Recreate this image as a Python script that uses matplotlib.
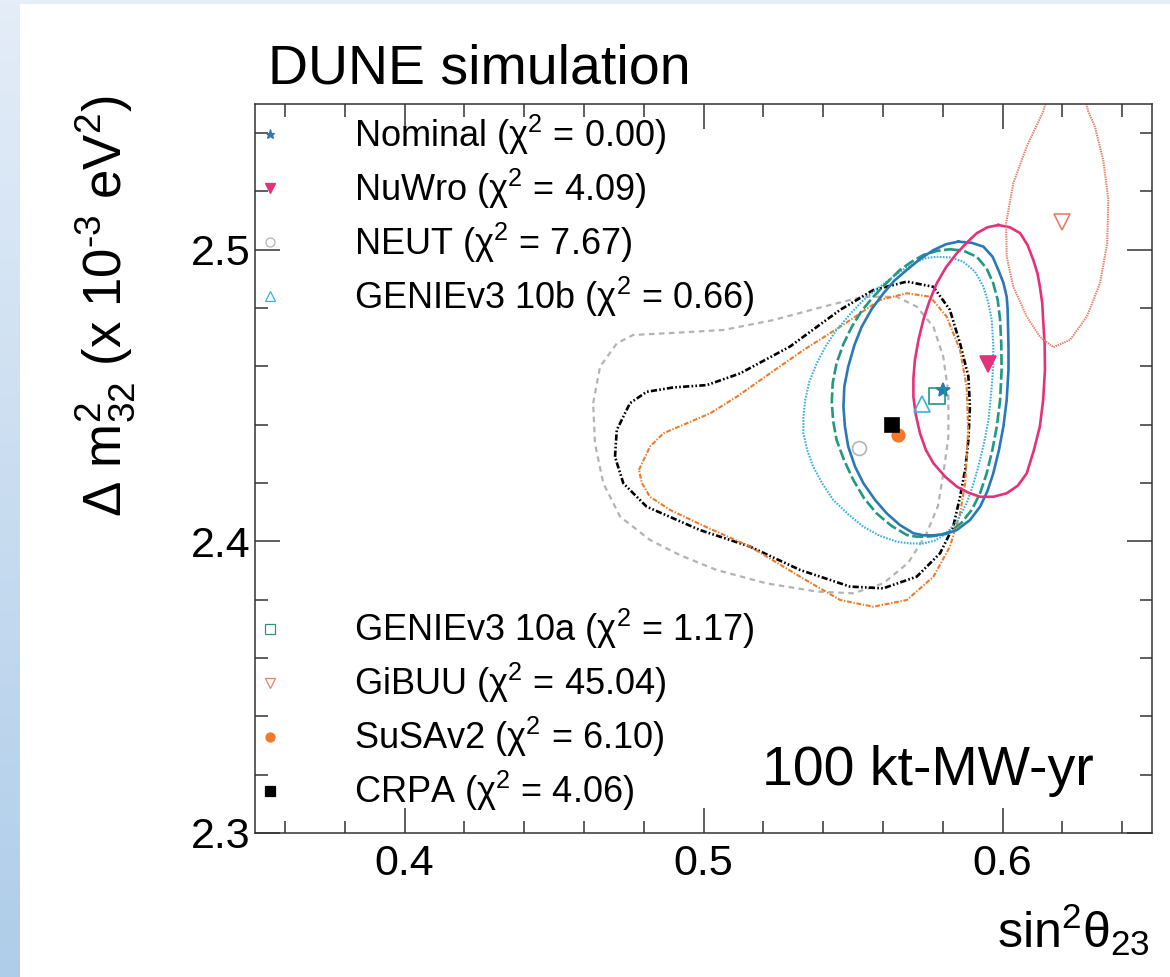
import numpy as np
import matplotlib
matplotlib.use("Agg")
import matplotlib.pyplot as plt
from matplotlib.lines import Line2D
from matplotlib.patches import Rectangle
from matplotlib.ticker import MultipleLocator, FixedLocator

plt.rcParams['font.family'] = ['Liberation Sans', 'DejaVu Sans']
plt.rcParams['mathtext.fontset'] = 'custom'
plt.rcParams['mathtext.rm'] = 'Liberation Sans'
plt.rcParams['mathtext.it'] = 'Liberation Sans:italic'
plt.rcParams['mathtext.bf'] = 'Liberation Sans:bold'
plt.rcParams['lines.scale_dashes'] = False

# best fit points
models = ["Nominal", "NuWro", "NEUT", "GENIEv3 10b", "GENIEv3 10a", "GiBUU", "SuSAv2", "CRPA"]
chi2 = ["0.00", "4.09", "7.67", "0.66", "1.17", "45.04", "6.10", "4.06"]
best_s23 = [0.580, 0.595, 0.552, 0.573, 0.578, 0.620, 0.565, 0.563]
best_dm32 = [2.452, 2.461, 2.432, 2.447, 2.450, 2.5095, 2.4365, 2.440]

# contours (sin^2 theta23, dm32 in 1e-3 eV^2)
nominal_s23 = [0.5852, 0.5897, 0.5936, 0.5967, 0.5986, 0.6003, 0.6014, 0.6017, 0.6018, 0.6020, 0.6020,
               0.6014, 0.6003, 0.5988, 0.5969, 0.5949, 0.5925, 0.5891, 0.5847, 0.5808, 0.5769, 0.5735,
               0.5702, 0.5657, 0.5613, 0.5574, 0.5535, 0.5507, 0.5484, 0.5473, 0.5468, 0.5471, 0.5484,
               0.5505, 0.5529, 0.5562, 0.5602, 0.5638, 0.5680, 0.5724, 0.5769, 0.5811]
nominal_dm32 = [2.5028, 2.5024, 2.5011, 2.4976, 2.4931, 2.4887, 2.4839, 2.4799, 2.4759, 2.4668, 2.4588,
                2.4485, 2.4394, 2.4313, 2.4233, 2.4171, 2.4119, 2.4073, 2.4039, 2.4025, 2.4021, 2.4021,
                2.4028, 2.4056, 2.4096, 2.4142, 2.4199, 2.4256, 2.4325, 2.4394, 2.4462, 2.4531, 2.4599,
                2.4674, 2.4736, 2.4796, 2.4851, 2.4894, 2.4931, 2.4968, 2.4999, 2.5019]

g10a_s23 = [0.5824, 0.5869, 0.5914, 0.5947, 0.5969, 0.5984, 0.5992, 0.5996, 0.5997, 0.5992, 0.5981,
            0.5966, 0.5947, 0.5925, 0.5897, 0.5863, 0.5824, 0.5785, 0.5746, 0.5713, 0.5680, 0.5629,
            0.5579, 0.5537, 0.5501, 0.5470, 0.5445, 0.5434, 0.5429, 0.5432, 0.5445, 0.5468, 0.5496,
            0.5529, 0.5568, 0.5613, 0.5657, 0.5696, 0.5735, 0.5780]
g10a_dm32 = [2.5002, 2.4997, 2.4976, 2.4936, 2.4885, 2.4828, 2.4759, 2.4674, 2.4588, 2.4485, 2.4394,
             2.4313, 2.4233, 2.4165, 2.4108, 2.4064, 2.4033, 2.4020, 2.4016, 2.4016, 2.4022, 2.4053,
             2.4096, 2.4148, 2.4211, 2.4279, 2.4348, 2.4411, 2.4474, 2.4542, 2.4611, 2.4677, 2.4736,
             2.4791, 2.4839, 2.4887, 2.4931, 2.4959, 2.4982, 2.4996]

g10b_s23 = [0.5780, 0.5824, 0.5869, 0.5908, 0.5936, 0.5953, 0.5964, 0.5969, 0.5969, 0.5962, 0.5953,
            0.5938, 0.5919, 0.5900, 0.5880, 0.5850, 0.5813, 0.5774, 0.5735, 0.5691, 0.5646, 0.5590,
            0.5535, 0.5484, 0.5434, 0.5397, 0.5367, 0.5347, 0.5334, 0.5334, 0.5340, 0.5354, 0.5379,
            0.5409, 0.5445, 0.5490, 0.5535, 0.5585, 0.5635, 0.5674, 0.5713, 0.5746]
g10b_dm32 = [2.4976, 2.4974, 2.4959, 2.4925, 2.4874, 2.4816, 2.4759, 2.4679, 2.4599, 2.4508, 2.4416,
             2.4336, 2.4256, 2.4188, 2.4131, 2.4073, 2.4028, 2.4003, 2.3993, 2.3993, 2.3999, 2.4019,
             2.4050, 2.4093, 2.4142, 2.4199, 2.4256, 2.4313, 2.4371, 2.4428, 2.4485, 2.4548, 2.4611,
             2.4670, 2.4725, 2.4779, 2.4828, 2.4870, 2.4908, 2.4936, 2.4959, 2.4972]

nuwro_s23 = [0.5986, 0.6025, 0.6059, 0.6084, 0.6103, 0.6117, 0.6125, 0.6133, 0.6136, 0.6141, 0.6142,
             0.6136, 0.6125, 0.6105, 0.6081, 0.6051, 0.6014, 0.5969, 0.5925, 0.5886, 0.5847, 0.5808,
             0.5769, 0.5744, 0.5724, 0.5710, 0.5702, 0.5702, 0.5707, 0.5719, 0.5735, 0.5755, 0.5780,
             0.5811, 0.5847, 0.5880, 0.5914, 0.5949]
nuwro_dm32 = [2.5085, 2.5077, 2.5057, 2.5016, 2.4965, 2.4919, 2.4874, 2.4816, 2.4759, 2.4674, 2.4588,
              2.4485, 2.4394, 2.4313, 2.4233, 2.4191, 2.4165, 2.4153, 2.4153, 2.4167, 2.4188, 2.4222,
              2.4268, 2.4313, 2.4371, 2.4434, 2.4496, 2.4559, 2.4622, 2.4691, 2.4759, 2.4822, 2.4885,
              2.4940, 2.4988, 2.5024, 2.5057, 2.5077]

gibuu_s23 = [0.6152, 0.6136, 0.6081, 0.6036, 0.6012, 0.6014, 0.6036, 0.6081, 0.6125, 0.6170, 0.6226,
             0.6282, 0.6326, 0.6350, 0.6354, 0.6337, 0.6309, 0.6287, 0.6273]
gibuu_dm32 = [2.5531, 2.5474, 2.5354, 2.5228, 2.5091, 2.4976, 2.4873, 2.4771, 2.4702, 2.4666, 2.4691,
              2.4771, 2.4885, 2.5022, 2.5171, 2.5308, 2.5422, 2.5474, 2.5531]

neut_s23 = [0.4631, 0.4654, 0.4710, 0.4765, 0.4899, 0.5066, 0.5233, 0.5401, 0.5534, 0.5646, 0.5713,
            0.5769, 0.5802, 0.5819, 0.5819, 0.5804, 0.5784, 0.5744, 0.5684, 0.5601, 0.5501, 0.5379,
            0.5211, 0.5044, 0.4921, 0.4821, 0.4721, 0.4665, 0.4637]
neut_dm32 = [2.4474, 2.4599, 2.4679, 2.4708, 2.4715, 2.4725, 2.4759, 2.4805, 2.4839, 2.4839, 2.4805,
             2.4736, 2.4633, 2.4508, 2.4359, 2.4245, 2.4121, 2.4022, 2.3926, 2.3856, 2.3822, 2.3828,
             2.3856, 2.3902, 2.3953, 2.4005, 2.4085, 2.4199, 2.4336]

susa_s23 = [0.4784, 0.4821, 0.4866, 0.4944, 0.5022, 0.5111, 0.5222, 0.5334, 0.5457, 0.5590, 0.5680,
            0.5758, 0.5813, 0.5858, 0.5880, 0.5885, 0.5875, 0.5858, 0.5824, 0.5769, 0.5680, 0.5568,
            0.5457, 0.5323, 0.5156, 0.4995, 0.4888, 0.4821, 0.4794]
susa_dm32 = [2.4245, 2.4325, 2.4371, 2.4405, 2.4439, 2.4496, 2.4576, 2.4656, 2.4736, 2.4828, 2.4851,
             2.4839, 2.4771, 2.4656, 2.4531, 2.4382, 2.4199, 2.4096, 2.3982, 2.3879, 2.3799, 2.3776,
             2.3799, 2.3879, 2.3982, 2.4056, 2.4108, 2.4153, 2.4200]

crpa_s23 = [0.4704, 0.4710, 0.4754, 0.4810, 0.4899, 0.5011, 0.5122, 0.5289, 0.5457, 0.5568, 0.5680,
            0.5769, 0.5824, 0.5858, 0.5886, 0.5891, 0.5886, 0.5875, 0.5858, 0.5835, 0.5791, 0.5713,
            0.5601, 0.5490, 0.5323, 0.5156, 0.4988, 0.4810, 0.4732]
crpa_dm32 = [2.4290, 2.4382, 2.4474, 2.4513, 2.4528, 2.4536, 2.4576, 2.4668, 2.4794, 2.4862, 2.4891,
             2.4873, 2.4794, 2.4679, 2.4565, 2.4462, 2.4348, 2.4245, 2.4153, 2.4050, 2.3959, 2.3879,
             2.3839, 2.3845, 2.3902, 2.3982, 2.4039, 2.4119, 2.4199]

# styles
colors = ["#2a78b8", "#e5317a", "#b4b4b4", "#3ab0e2", "#1f9a80", "#e5806c", "#f07a2a", "#000000"]
markers = ["*", "v", "o", "^", "s", "v", "o", "s"]
filled = [True, True, False, False, False, False, True, True]
msizes = [10, 11, 10, 11, 11, 11, 9, 10]

fig = plt.figure(figsize=(11.7, 9.77), dpi=100)

# slide background
bg = fig.add_axes([0, 0, 1, 1], zorder=-5)
grad = np.linspace(0, 1, 256).reshape(-1, 1)
bg.imshow(grad, extent=[0, 1, 0, 1], aspect='auto',
          cmap=matplotlib.colors.LinearSegmentedColormap.from_list('bgc', ['#e4edf8', '#afcde9']))
bg.add_patch(Rectangle((20 / 1170, 0), 1, 1 - 4 / 977, color='white', lw=0))
bg.set_xlim(0, 1)
bg.set_ylim(0, 1)
bg.axis('off')

ax = fig.add_axes([255 / 1170, 1 - 833 / 977, 897 / 1170, 729 / 977])

def closed(a):
    return list(a) + [a[0]]

ax.plot(closed(neut_s23), closed(neut_dm32), color=colors[2], lw=1.6, dashes=(4.0, 3.2))
ax.plot(closed(crpa_s23), closed(crpa_dm32), color=colors[7], lw=1.9,
        dashes=(4.5, 1.6, 1.2, 1.6, 1.2, 1.6))
ax.plot(closed(susa_s23), closed(susa_dm32), color=colors[6], lw=1.5, dashes=(3.5, 1.2, 1.0, 1.2))
ax.plot(closed(g10b_s23), closed(g10b_dm32), color=colors[3], lw=1.5, dashes=(1.2, 1.0))
ax.plot(closed(g10a_s23), closed(g10a_dm32), color=colors[4], lw=1.9, dashes=(8.0, 2.5))
ax.plot(closed(nominal_s23), closed(nominal_dm32), color=colors[0], lw=1.9, solid_joinstyle='round')
ax.plot(closed(nuwro_s23), closed(nuwro_dm32), color=colors[1], lw=1.9, solid_joinstyle='round')
ax.plot(gibuu_s23, gibuu_dm32, color=colors[5], lw=1.5, dashes=(1.0, 0.7))

handles = []
for i in range(len(models)):
    fc = colors[i] if filled[i] else 'none'
    ax.plot(best_s23[i], best_dm32[i], ls='none', marker=markers[i], ms=msizes[i],
            mfc=fc, mec=colors[i], mew=1.2, zorder=5)
    handles.append(Line2D([], [], ls='none', marker=markers[i], ms=6.5, mfc=fc,
                          mec=colors[i], mew=0.9,
                          label=models[i] + r" ($\mathregular{\chi^{2}}$ = " + chi2[i] + ")"))

leg_kw = dict(frameon=False, fontsize=26, borderaxespad=0, borderpad=0, handlelength=0.68,
              handletextpad=2.0, labelspacing=0.27)
leg1 = ax.legend(handles=handles[:4], loc='upper left', bbox_to_anchor=(0.003, 0.988), **leg_kw)
ax.add_artist(leg1)
ax.legend(handles=handles[4:], loc='lower left', bbox_to_anchor=(0.003, 0.027), **leg_kw)

ax.set_xlim(0.35, 0.65)
ax.set_ylim(2.3, 2.55)
ax.xaxis.set_major_locator(FixedLocator([0.4, 0.5, 0.6]))
ax.xaxis.set_minor_locator(MultipleLocator(0.02))
ax.yaxis.set_major_locator(FixedLocator([2.3, 2.4, 2.5]))
ax.yaxis.set_minor_locator(MultipleLocator(0.02))
ax.set_xticklabels(["0.4", "0.5", "0.6"])
ax.set_yticklabels(["2.3", "2.4", "2.5"])
ax.tick_params(which='both', direction='in', top=True, right=True, width=1.1, colors='#333333',
               labelcolor='black', labelsize=31)
ax.tick_params(which='major', length=18)
ax.tick_params(which='minor', length=9)
ax.tick_params(axis='x', pad=8)
ax.tick_params(axis='y', pad=3)
for s in ax.spines.values():
    s.set_linewidth(1.1)
    s.set_color('#333333')

ax.text(0.565, 0.066, "100 kt-MW-yr", transform=ax.transAxes, fontsize=40, va='baseline')
fig.text(268 / 1170, 1 - 84 / 977, "DUNE simulation", fontsize=40, va='baseline')
fig.text(105 / 1170, 1 - 96 / 977, r"$\mathregular{\Delta}$ m$^{2}_{32}$ (x 10$^{\text{-3}}$ eV$^{2}$)",
         rotation=90, fontsize=38, ha='center', va='top')
fig.text(1150 / 1170, 1 - 948 / 977, r"sin$^{2}\mathregular{\theta}_{23}$", fontsize=36,
         ha='right', va='baseline')

fig.savefig("out.png", dpi=100)
